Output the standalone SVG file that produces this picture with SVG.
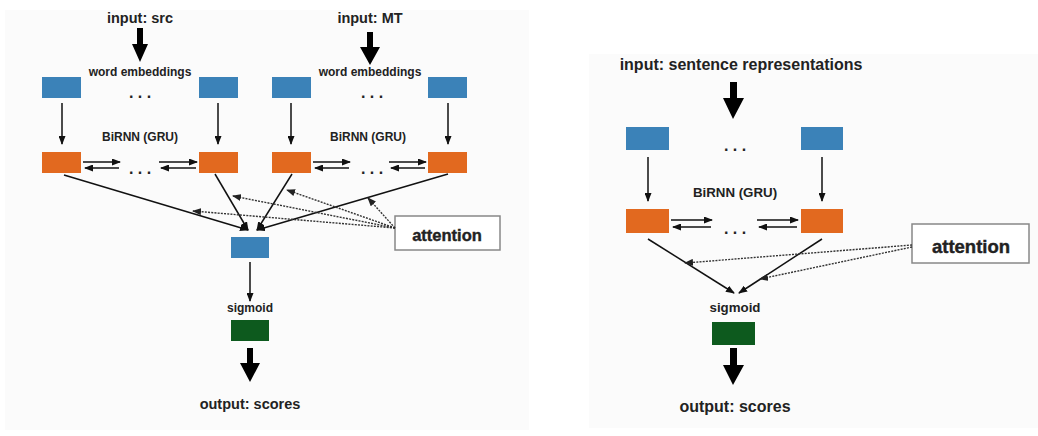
<svg xmlns="http://www.w3.org/2000/svg" width="1038" height="436" viewBox="0 0 1038 436">
<defs>
<marker id="ah" markerUnits="userSpaceOnUse" markerWidth="9" markerHeight="7" refX="8" refY="3.5" orient="auto"><path d="M0,0 L9,3.5 L0,7 z" fill="#111"/></marker>
<marker id="ahd" markerUnits="userSpaceOnUse" markerWidth="9" markerHeight="7" refX="8" refY="3.5" orient="auto"><path d="M0,0 L9,3.5 L0,7 z" fill="#222"/></marker>
</defs>
<style>
.bg{fill:#fbfbfb}
.blue{fill:#3b82b8}
.orange{fill:#e2691f}
.green{fill:#0d5a1e}
.lbl{font-family:"Liberation Sans",Arial,sans-serif;font-weight:bold;fill:#222;text-anchor:middle}
.thin{stroke:#111;stroke-width:1.5;fill:none;marker-end:url(#ah)}
.dot{stroke:#333;stroke-width:1.4;fill:none;stroke-dasharray:2 1.2;marker-end:url(#ahd)}
.big{fill:#000}
.att{fill:#fff;stroke:#888;stroke-width:1.5}
</style>
<rect width="1038" height="436" fill="#fff"/>
<rect class="bg" x="5" y="10" width="524" height="420"/>
<rect class="bg" x="589" y="54" width="449" height="374"/>

<!-- Left panel -->
<g id="left-labels">
<text class="lbl" x="140" y="23" font-size="14.5">input: src</text>
<text class="lbl" x="370" y="23" font-size="14.5">input: MT</text>
<text class="lbl" x="140" y="76" font-size="12">word embeddings</text>
<text class="lbl" x="370" y="76" font-size="12">word embeddings</text>
<text class="lbl" x="140" y="98" font-size="16">. . .</text>
<text class="lbl" x="372" y="98" font-size="16">. . .</text>
<text class="lbl" x="140" y="141" font-size="12">BiRNN (GRU)</text>
<text class="lbl" x="368" y="141" font-size="12">BiRNN (GRU)</text>
<text class="lbl" x="140" y="174" font-size="16">. . .</text>
<text class="lbl" x="372" y="174" font-size="16">. . .</text>
<text class="lbl" x="250" y="312" font-size="12">sigmoid</text>
<text class="lbl" x="250" y="409" font-size="14.5">output: scores</text>
</g>
<g id="l-emb1"><rect class="blue" x="42" y="77" width="39" height="21"/></g>
<g id="l-emb2"><rect class="blue" x="199" y="77" width="39" height="21"/></g>
<g id="l-emb3"><rect class="blue" x="272" y="77" width="39" height="21"/></g>
<g id="l-emb4"><rect class="blue" x="428" y="77" width="39" height="21"/></g>
<g id="l-rnn1"><rect class="orange" x="42" y="152" width="39" height="21"/></g>
<g id="l-rnn2"><rect class="orange" x="199" y="152" width="39" height="21"/></g>
<g id="l-rnn3"><rect class="orange" x="272" y="152" width="39" height="21"/></g>
<g id="l-rnn4"><rect class="orange" x="428" y="152" width="39" height="21"/></g>
<g id="l-ctx"><rect class="blue" x="231" y="237" width="38" height="21"/></g>
<g id="l-sig"><rect class="green" x="231" y="320" width="38" height="21"/></g>
<g id="l-att"><rect class="att" x="395" y="216" width="105" height="34"/><text class="lbl" x="447" y="241" font-size="16.5" stroke="#222" stroke-width="0.4">attention</text></g>

<!-- Right panel -->
<g id="right-labels">
<text class="lbl" x="741" y="70" font-size="16">input: sentence representations</text>
<text class="lbl" x="735" y="151" font-size="16">. . .</text>
<text class="lbl" x="735" y="197" font-size="13.3">BiRNN (GRU)</text>
<text class="lbl" x="735" y="234" font-size="16">. . .</text>
<text class="lbl" x="735" y="312" font-size="13.3">sigmoid</text>
<text class="lbl" x="735" y="412" font-size="16">output: scores</text>
</g>
<g id="r-emb1"><rect class="blue" x="626" y="127" width="43" height="23"/></g>
<g id="r-emb2"><rect class="blue" x="801" y="127" width="42" height="23"/></g>
<g id="r-rnn1"><rect class="orange" x="626" y="209" width="43" height="24"/></g>
<g id="r-rnn2"><rect class="orange" x="801" y="209" width="42" height="24"/></g>
<g id="r-sig"><rect class="green" x="712" y="322" width="43" height="23"/></g>
<g id="r-att"><rect class="att" x="912" y="224" width="117" height="39"/><text class="lbl" x="971" y="253" font-size="18.5" stroke="#222" stroke-width="0.4">attention</text></g>

<g id="connectors">
<!-- big arrows -->
<polygon class="big" points="137,28 143,28 143,44 148,44 140,62 132,44 137,44"/>
<polygon class="big" points="367,32 373,32 373,47 380,47 370,65 360,47 367,47"/>
<polygon class="big" points="247,348 253,348 253,363 260,363 250,382 240,363 247,363"/>
<polygon class="big" points="730,82 737,82 737,98 744,98 733,119 723,98 730,98"/>
<polygon class="big" points="730,348 737,348 737,365 744,365 733,385 723,365 730,365"/>
<!-- left vertical -->
<line class="thin" x1="62" y1="103" x2="62" y2="144"/>
<line class="thin" x1="218" y1="103" x2="218" y2="144"/>
<line class="thin" x1="291" y1="103" x2="291" y2="144"/>
<line class="thin" x1="448" y1="103" x2="448" y2="144"/>
<line class="thin" x1="250" y1="262" x2="250" y2="301"/>
<!-- left bidirectional -->
<line class="thin" x1="83" y1="162" x2="120" y2="162"/>
<line class="thin" x1="119" y1="168" x2="85" y2="168"/>
<line class="thin" x1="159" y1="162" x2="197" y2="162"/>
<line class="thin" x1="196" y1="168" x2="161" y2="168"/>
<line class="thin" x1="313" y1="162" x2="350" y2="162"/>
<line class="thin" x1="349" y1="168" x2="315" y2="168"/>
<line class="thin" x1="389" y1="162" x2="426" y2="162"/>
<line class="thin" x1="425" y1="168" x2="391" y2="168"/>
<!-- left converging -->
<line class="thin" x1="64" y1="175" x2="248" y2="230"/>
<line class="thin" x1="215" y1="174" x2="248" y2="230"/>
<line class="thin" x1="292" y1="174" x2="257" y2="230"/>
<line class="thin" x1="448" y1="174" x2="257" y2="230"/>
<!-- left attention -->
<line class="dot" x1="395" y1="228" x2="193" y2="211"/>
<line class="dot" x1="395" y1="228" x2="233" y2="196"/>
<line class="dot" x1="395" y1="228" x2="287" y2="190"/>
<line class="dot" x1="395" y1="228" x2="368" y2="198"/>
<!-- right vertical -->
<line class="thin" x1="648" y1="157" x2="648" y2="201"/>
<line class="thin" x1="822" y1="157" x2="822" y2="201"/>
<!-- right bidirectional -->
<line class="thin" x1="671" y1="220" x2="712" y2="220"/>
<line class="thin" x1="711" y1="227" x2="673" y2="227"/>
<line class="thin" x1="757" y1="220" x2="798" y2="220"/>
<line class="thin" x1="797" y1="227" x2="759" y2="227"/>
<!-- right converging -->
<line class="thin" x1="648" y1="239" x2="734" y2="293"/>
<line class="thin" x1="822" y1="239" x2="739" y2="293"/>
<!-- right attention -->
<line class="dot" x1="912" y1="245" x2="685" y2="263"/>
<line class="dot" x1="912" y1="247" x2="760" y2="279"/>
</g>
</svg>
